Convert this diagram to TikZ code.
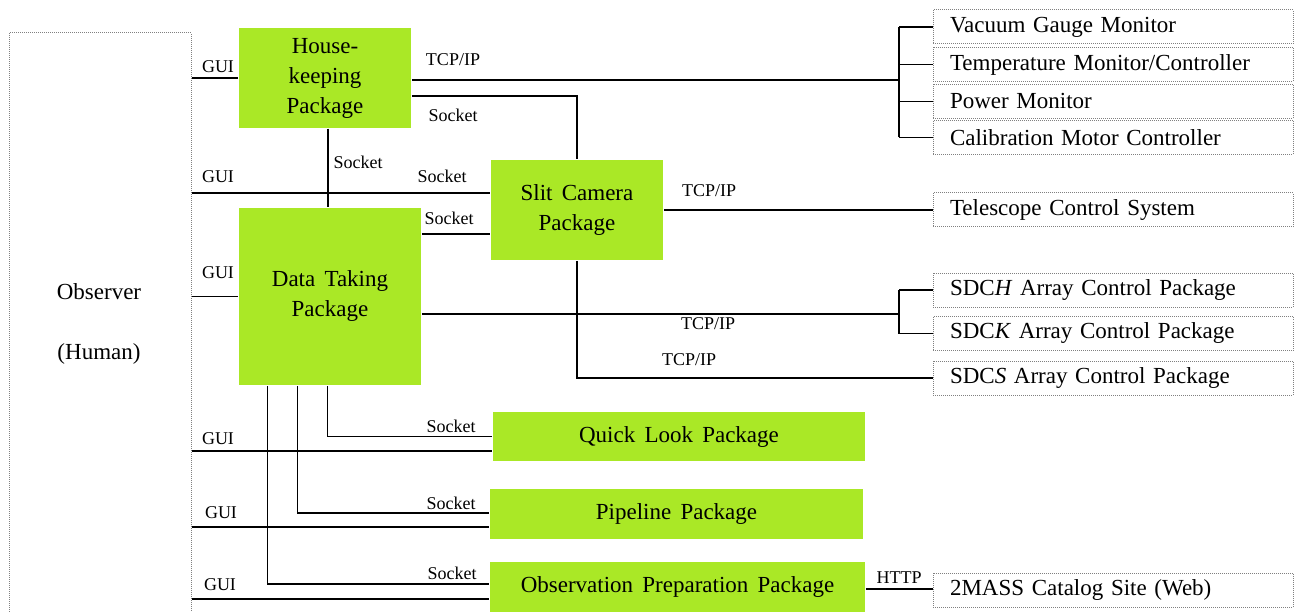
\documentclass[tikz,border=0pt]{standalone}
\usepackage{fontspec}
\setmainfont{Liberation Serif}
\newfontfamily\boxfont{Liberation Serif}[WordSpace=1.6]
\usetikzlibrary{positioning}
\definecolor{pkggreen}{RGB}{170,232,38}

\begin{document}
\begin{tikzpicture}[x=1pt,y=-1pt,line width=1.5pt,
  pkg/.style={fill=pkggreen,align=center,inner sep=0pt,
    font=\boxfont\fontsize{23}{30}\selectfont},
  ext/.style={draw=gray,densely dotted,line width=1pt,minimum height=34pt,
    inner xsep=17pt,inner ysep=0pt,text width=326pt,align=left,
    font=\boxfont\fontsize{23}{26}\selectfont},
  lbl/.style={inner sep=0pt,font=\fontsize{18}{20}\selectfont}]
  \useasboundingbox (0,0) rectangle (1297,612);

  \node[draw=gray,densely dotted,line width=1pt,minimum width=182pt,minimum height=620pt] (user) at (100,343) {};
  \node[align=center,font=\fontsize{23}{60}\selectfont] (usertxt) at (99,324) {Observer\\(Human)};

  \node[pkg,minimum width=172pt,minimum height=100pt] (hk) at (325,78) {House-\\keeping\\Package};
  \node[pkg,minimum width=172pt,minimum height=100pt] (slit) at (577,210) {Slit Camera\\Package};
  \node[pkg,minimum width=182pt,minimum height=177pt] (dt) at (330,296.5) {Data Taking\\Package};
  \node[pkg,minimum width=372pt,minimum height=49pt] (ql) at (679,436.5) {Quick Look Package};
  \node[pkg,minimum width=373pt,minimum height=50pt] (pipe) at (676.5,514) {Pipeline Package};
  \node[pkg,minimum width=375pt,minimum height=50pt] (obs) at (677.5,587) {Observation Preparation Package};

  \node[ext] (vac) at (1113,27) {Vacuum Gauge Monitor};
  \node[ext] (temp) at (1113,64.5) {Temperature Monitor/Controller};
  \node[ext] (pow) at (1113,101.5) {Power Monitor};
  \node[ext] (cal) at (1113,137.5) {Calibration Motor Controller};
  \node[ext] (tcs) at (1113,210) {Telescope Control System};
  \node[ext] (sdch) at (1113,290) {SDC\textit{H} Array Control Package};
  \node[ext] (sdck) at (1113,333.5) {SDC\textit{K} Array Control Package};
  \node[ext] (sdcs) at (1113,378) {SDC\textit{S} Array Control Package};
  \node[ext] (mass) at (1113,590) {2MASS Catalog Site (Web)};

  \coordinate (bus1) at (899,80);
  \coordinate (bus2) at (899,314);

  % housekeeping links
  \draw (hk.east |- bus1) -- (bus1);
  \draw (bus1 |- vac) -- (bus1 |- cal);
  \foreach \n in {vac,temp,pow,cal}
    \draw (bus1 |- \n) -- (\n.west);
  \draw ([yshift=-18pt]hk.east) -| (slit.north);
  \draw ([xshift=3pt]hk.south) -- ([xshift=3pt]hk.south |- dt.north);

  % slit camera links
  \coordinate (g2) at ([yshift=17pt]slit.west);
  \coordinate (s2) at ([yshift=-24pt]slit.west);
  \draw (user.east |- g2) -- (g2);
  \draw (dt.east |- s2) -- (s2);
  \draw (slit.east) -- (tcs.west);
  \draw (slit.south) |- (sdcs.west);

  % data taking links
  \draw (user.east |- hk.west) -- (hk.west);
  \draw (user.east |- dt.west) -- (dt.west);
  \draw (dt.east |- bus2) -- (bus2);
  \draw (bus2 |- sdch) -- (bus2 |- sdck);
  \draw (bus2 |- sdch) -- (sdch.west);
  \draw (bus2 |- sdck) -- (sdck.west);
  \draw ([xshift=89pt]dt.south west) |- (ql.west);
  \draw ([xshift=59pt]dt.south west) |- ([yshift=1pt]pipe.west);
  \draw ([xshift=29pt]dt.south west) |- ([yshift=3pt]obs.west);
  \draw (user.east |- 0,451) -- (ql.west |- 0,451);
  \draw (user.east |- 0,527) -- (pipe.west |- 0,527);
  \draw (user.east |- 0,599) -- (obs.west |- 0,599);
  \draw ([yshift=-2pt]obs.east) -- ([yshift=-2pt]obs.east -| mass.west);

  \node[lbl] (gui1) at (218,67) {GUI};
  \node[lbl] (gui2) at (218,177) {GUI};
  \node[lbl] (gui3) at (218,273) {GUI};
  \node[lbl] (gui4) at (218,439) {GUI};
  \node[lbl] (gui5) at (221,513) {GUI};
  \node[lbl] (gui6) at (220,585) {GUI};
  \node[lbl] (sock1) at (453,115) {Socket};
  \node[lbl] (sock2) at (358,162) {Socket};
  \node[lbl] (sock3) at (442,176) {Socket};
  \node[lbl] (sock4) at (449,218) {Socket};
  \node[lbl] (sock5) at (451,426) {Socket};
  \node[lbl] (sock6) at (451,503) {Socket};
  \node[lbl] (sock7) at (452,573) {Socket};
  \node[lbl] (tcp1) at (453,60) {TCP/IP};
  \node[lbl] (tcp2) at (709,191) {TCP/IP};
  \node[lbl] (tcp3) at (708,324) {TCP/IP};
  \node[lbl] (tcp4) at (689,360) {TCP/IP};
  \node[lbl] (http) at (899,578) {HTTP};
\end{tikzpicture}
\end{document}
